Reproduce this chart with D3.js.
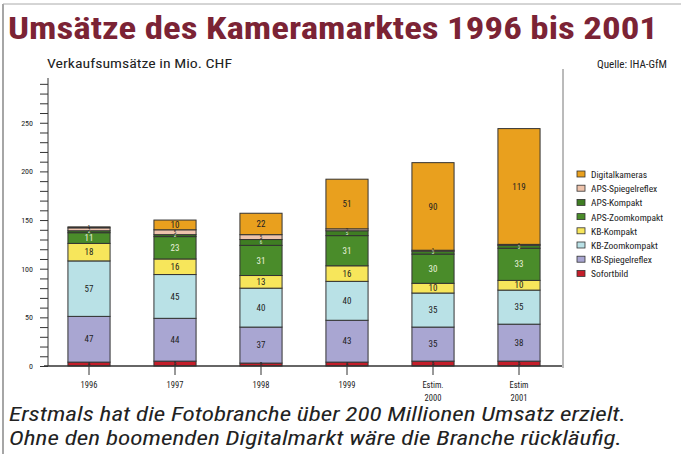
<!DOCTYPE html>
<html>
<head>
<meta charset="utf-8">
<script src="https://cdn.jsdelivr.net/npm/d3@7"></script>
<style>
  body { margin: 0; background: #fff; }
  svg { display: block; }
  text { font-family: "Liberation Sans Narrow", "Roboto Condensed", "DejaVu Sans Condensed", "Liberation Sans", Arial, sans-serif; }
</style>
</head>
<body>
<div id="chart"></div>
<script>
// categories (x axis), two-line labels
var years = ["1996", "1997", "1998", "1999", "Estim. 2000", "Estim 2001"];
// series, stacked bottom to top
var seriesNames = ["Sofortbild", "KB-Spiegelreflex", "KB-Zoomkompakt", "KB-Kompakt",
  "APS-Zoomkompakt", "APS-Kompakt", "APS-Spiegelreflex", "Digitalkameras"];
var seriesColors = ["#c41e2a", "#a9a6d2", "#b9e1e6", "#f7e65b",
  "#4a8c2a", "#3f7d23", "#eec3ac", "#e9a01e"];
// values in Mio. CHF, one array per series, in year order
var sofortbild      = [4, 5, 3, 4, 5, 5];
var kbSpiegelreflex = [47, 44, 37, 43, 35, 38];
var kbZoomkompakt   = [57, 45, 40, 40, 35, 35];
var kbKompakt       = [18, 16, 13, 16, 10, 10];
var apsZoomkompakt  = [11, 23, 31, 31, 30, 33];
var apsKompakt      = [2, 2, 6, 5, 3, 3];
var apsSpiegel      = [3, 5, 5, 2, 1, 1];
var digital         = [1, 10, 22, 51, 90, 119];
var yTicksMajor = [0, 50, 100, 150, 200, 250];

var seriesValues = [sofortbild, kbSpiegelreflex, kbZoomkompakt, kbKompakt,
  apsZoomkompakt, apsKompakt, apsSpiegel, digital];

var W = 681, H = 454;
var svg = d3.select("#chart").append("svg").attr("width", W).attr("height", H);

// page frame
svg.append("line").attr("x1", 3).attr("x2", 3).attr("y1", 4).attr("y2", H)
  .attr("stroke", "#888").attr("stroke-width", 1.5);
svg.append("line").attr("x1", 3).attr("x2", W).attr("y1", 4).attr("y2", 4)
  .attr("stroke", "#aaa").attr("stroke-width", 1);

// titles
svg.append("text").attr("x", 8).attr("y", 39)
  .attr("fill", "#7b2335").style("font-size", "32px").style("font-weight", "bold")
  .attr("textLength", 650).attr("lengthAdjust", "spacingAndGlyphs")
  .text("Umsätze des Kameramarktes 1996 bis 2001");
svg.append("text").attr("x", 47).attr("y", 68)
  .attr("fill", "#222").style("font-size", "13px")
  .attr("textLength", 185).attr("lengthAdjust", "spacingAndGlyphs")
  .text("Verkaufsumsätze in Mio. CHF");
svg.append("text").attr("x", 667).attr("y", 68).attr("text-anchor", "end")
  .attr("fill", "#222").style("font-size", "10px")
  .attr("textLength", 70).attr("lengthAdjust", "spacingAndGlyphs")
  .text("Quelle: IHA-GfM");

// scales
var x = d3.scaleBand().domain(years).range([46, 562]).paddingInner(0.51).paddingOuter(0.255);
var y = d3.scaleLinear().domain([0, 296]).range([366, 78]);

// plot right border
svg.append("line").attr("x1", 563).attr("x2", 563).attr("y1", 69).attr("y2", 368)
  .attr("stroke", "#777").attr("stroke-width", 1);

// y axis with minor ticks every 10
var yAxis = d3.axisLeft(y).tickValues(d3.range(0, 291, 10)).tickSize(8)
  .tickFormat(function (d) { return yTicksMajor.indexOf(d) >= 0 ? d : ""; });
var gy = svg.append("g").attr("transform", "translate(48,0)").call(yAxis);
gy.select(".domain").attr("d", "M0," + y(0) + "V78").attr("stroke", "#333");
gy.selectAll(".tick line").attr("stroke", "#333");
gy.selectAll(".tick text").attr("x", -15).attr("fill", "#222").style("font-size", "8px");

// stacked data
var rows = years.map(function (yr, i) {
  var r = { year: yr };
  seriesNames.forEach(function (s, k) { r[s] = seriesValues[k][i]; });
  return r;
});
var stacked = d3.stack().keys(seriesNames)(rows);

var layers = svg.append("g").selectAll("g").data(stacked).enter().append("g")
  .attr("fill", function (d, k) { return seriesColors[k]; });
layers.selectAll("rect").data(function (d) { return d; }).enter().append("rect")
  .attr("x", function (d) { return x(d.data.year); })
  .attr("width", x.bandwidth())
  .attr("y", function (d) { return y(d[1]); })
  .attr("height", function (d) { return y(d[0]) - y(d[1]); })
  .attr("stroke", "#333").attr("stroke-width", 1);

// segment labels (tiny ones on thin slices, like the print)
var labelG = svg.append("g");
stacked.forEach(function (layer, k) {
  labelG.selectAll(null).data(layer).enter().append("text")
    .attr("x", function (d) { return x(d.data.year) + x.bandwidth() / 2; })
    .attr("y", function (d) { return (y(d[0]) + y(d[1])) / 2; })
    .attr("dy", "0.35em").attr("text-anchor", "middle")
    .attr("fill", (k === 4 || k === 5) ? "#e8f0dc" : "#222")
    .style("font-size", function (d) { return (d[1] - d[0]) >= 10 ? "9px" : "5px"; })
    .text(function (d) { return d[1] - d[0]; });
});

// x baseline and ticks
svg.append("line").attr("x1", 44).attr("x2", 562).attr("y1", y(0)).attr("y2", y(0))
  .attr("stroke", "#333").attr("stroke-width", 1.5);
var xg = svg.append("g");
xg.selectAll("line").data(years).enter().append("line")
  .attr("x1", function (d) { return x(d) + x.bandwidth() / 2; })
  .attr("x2", function (d) { return x(d) + x.bandwidth() / 2; })
  .attr("y1", y(0) - 4).attr("y2", y(0) + 9)
  .attr("stroke", "#333");
xg.selectAll("text").data(years).enter().append("text")
  .attr("x", function (d) { return x(d) + x.bandwidth() / 2; })
  .attr("y", 388).attr("text-anchor", "middle")
  .attr("fill", "#222").style("font-size", "8.5px")
  .each(function (d) {
    var parts = d.split(" ");
    var t = d3.select(this);
    parts.forEach(function (p, i) {
      t.append("tspan").attr("x", t.attr("x")).attr("dy", i === 0 ? 0 : 13).text(p);
    });
  });

// legend, top item = last series
var legendItems = seriesNames.slice().reverse();
var legendColors = seriesColors.slice().reverse();
var lg = svg.append("g").attr("transform", "translate(577,175)");
var li = lg.selectAll("g").data(legendItems).enter().append("g")
  .attr("transform", function (d, i) { return "translate(0," + (i * 14.2) + ")"; });
li.append("rect").attr("x", 0).attr("y", -4).attr("width", 8).attr("height", 6)
  .attr("fill", function (d, i) { return legendColors[i]; })
  .attr("stroke", "#333").attr("stroke-width", 0.8);
li.append("text").attr("x", 14).attr("y", 0).attr("dy", "0.32em")
  .attr("fill", "#222").style("font-size", "9.5px")
  .text(function (d) { return d; });

// caption
var caption = ["Erstmals hat die Fotobranche über 200 Millionen Umsatz erzielt.",
  "Ohne den boomenden Digitalmarkt wäre die Branche rückläufig."];
var capLen = [617, 613];
svg.append("g").selectAll("text").data(caption).enter().append("text")
  .attr("x", 9).attr("y", function (d, i) { return 421 + i * 24; })
  .attr("fill", "#222").style("font-size", "20px").style("font-style", "italic")
  .attr("textLength", function (d, i) { return capLen[i]; })
  .attr("lengthAdjust", "spacingAndGlyphs")
  .text(function (d) { return d; });
</script>
</body>
</html>
